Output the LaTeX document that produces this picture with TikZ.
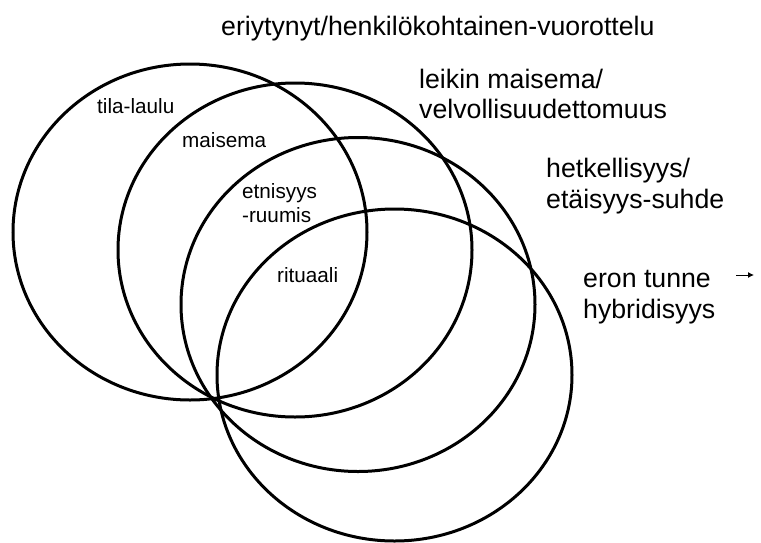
\documentclass[tikz,border=0pt]{standalone}
\usepackage{fontspec}
\setmainfont{Liberation Sans}
\usetikzlibrary{arrows.meta}
\tikzset{
  ring/.style={draw=black, line width=3pt},
  bigtxt/.style={anchor=base west, inner sep=0pt, font=\fontsize{26.7pt}{30pt}\selectfont},
  smalltxt/.style={anchor=base west, inner sep=0pt, font=\fontsize{20.7pt}{25pt}\selectfont},
}
\begin{document}
\begin{tikzpicture}[x=1pt,y=-1pt]
\useasboundingbox[fill=white] (0,0) rectangle (761,542);
% ellipses
\draw[ring] (190,232) ellipse [x radius=177pt, y radius=168pt];
\draw[ring] (295,250) ellipse [x radius=177pt, y radius=167pt];
\draw[ring] (358,304.5) ellipse [x radius=177pt, y radius=167pt];
\draw[ring] (394.5,375) ellipse [x radius=177.5pt, y radius=166pt];
% big labels
\node[bigtxt] (t1) at (221,35) {eriytynyt/henkilökohtainen-vuorottelu};
\node[bigtxt] (t2a) at (419,88) {leikin maisema/};
\node[bigtxt] (t2b) at (419,118) {velvollisuudettomuus};
\node[bigtxt] (t3a) at (546,177) {hetkellisyys/};
\node[bigtxt] (t3b) at (546,208) {etäisyys-suhde};
\node[bigtxt] (t4a) at (583,287) {eron tunne};
\node[bigtxt] (t4b) at (583,318) {hybridisyys};
% small labels
\node[smalltxt] (s1) at (97,113) {tila-laulu};
\node[smalltxt] (s2) at (182,147) {maisema};
\node[smalltxt] (s3a) at (242,198) {etnisyys};
\node[smalltxt] (s3b) at (242,222) {-ruumis};
\node[smalltxt] (s4) at (277,282) {rituaali};
% small arrow
\coordinate (arA) at (736,275);
\coordinate (arB) at (754,275);
\draw[line width=1pt, -{Latex[length=6pt,width=6pt]}] (arA) -- (arB);
\end{tikzpicture}
\end{document}
